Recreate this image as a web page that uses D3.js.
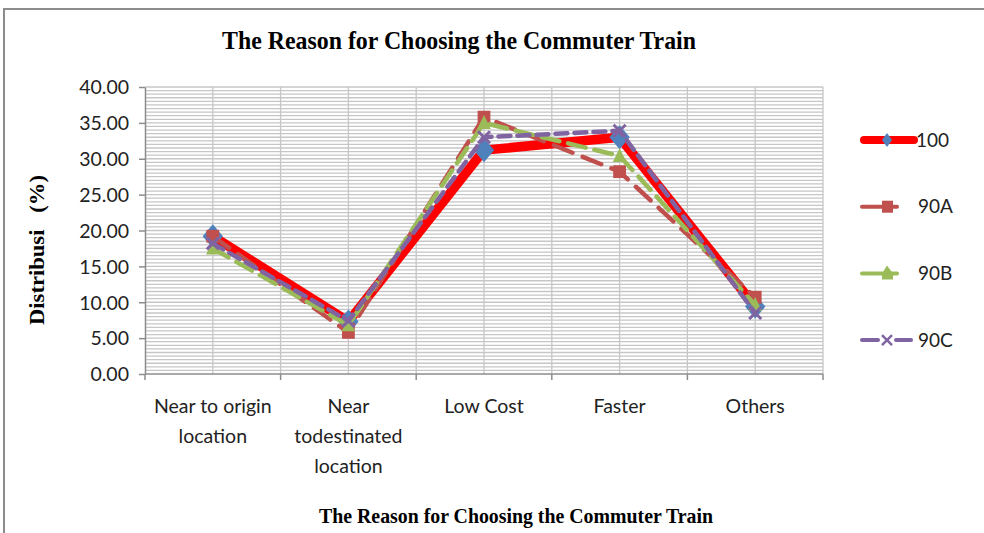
<!DOCTYPE html>
<html>
<head>
<meta charset="utf-8">
<script src="https://cdn.jsdelivr.net/npm/d3@7"></script>
<style>
  body { margin: 0; background: #fff; }
  svg { display: block; }
</style>
</head>
<body>
<div id="chart"></div>
<script>
const W = 984, H = 533;

// data
const categories = [["Near to origin", "location"], ["Near", "todestinated", "location"], ["Low Cost"], ["Faster"], ["Others"]];
const seriesNames = ["100", "90A", "90B", "90C"];
const s100 = [19.2, 7.3, 31.2, 33.0, 9.4];
const s90A = [19.2, 5.8, 35.8, 28.2, 10.7];
const s90B = [17.5, 6.8, 35.0, 30.4, 9.6];
const s90C = [18.2, 7.4, 33.0, 33.9, 8.5];
const yTicks = [0, 5, 10, 15, 20, 25, 30, 35, 40];

const series = [
  {name: seriesNames[0], values: s100, color: "#FF0000", width: 9.5, dash: null, marker: "diamond", mcolor: "#4F81BD"},
  {name: seriesNames[1], values: s90A, color: "#C0504D", width: 4.5, dash: "20,11", marker: "square", mcolor: "#C0504D"},
  {name: seriesNames[2], values: s90B, color: "#9BBB59", width: 4.5, dash: "18,9", marker: "triangle", mcolor: "#9BBB59"},
  {name: seriesNames[3], values: s90C, color: "#8064A2", width: 4.5, dash: "12,7", marker: "cross", mcolor: "#8064A2"}
];

const labelFont = "Lato, Carlito, 'Open Sans', sans-serif";
const titleFont = "'Liberation Serif', 'DejaVu Serif', serif";

const svg = d3.select("#chart").append("svg").attr("width", W).attr("height", H);

// outer frame
svg.append("rect").attr("x", 4).attr("y", 9).attr("width", W + 10).attr("height", H + 10)
  .attr("fill", "none").attr("stroke", "#8c8c8c").attr("stroke-width", 2);

const pLeft = 145, pRight = 823, pTop = 87, pBottom = 374;

const x = d3.scaleBand().domain(d3.range(categories.length)).range([pLeft, pRight]);
const y = d3.scaleLinear().domain([0, 40]).range([pBottom, pTop]);

// horizontal gridlines every 0.5
const g = svg.append("g");
g.selectAll("line.h").data(d3.range(0.5, 40.01, 0.5)).enter().append("line")
  .attr("x1", pLeft).attr("x2", pRight)
  .attr("y1", d => y(d)).attr("y2", d => y(d))
  .attr("stroke", "#c6c6c6").attr("stroke-width", 1.3);

// vertical gridlines at centers and boundaries
const vx = [];
categories.forEach((c, i) => { vx.push(x(i) + x.bandwidth() / 2); vx.push(x(i) + x.bandwidth()); });
g.selectAll("line.v").data(vx).enter().append("line")
  .attr("x1", d => d).attr("x2", d => d).attr("y1", pTop).attr("y2", pBottom)
  .attr("stroke", "#c6c6c6").attr("stroke-width", 1.3);

// y axis
const yAxis = d3.axisLeft(y).tickValues(yTicks).tickFormat(d3.format(".2f")).tickSize(6).tickSizeOuter(0);
const ya = svg.append("g").attr("transform", "translate(" + pLeft + ",0)").call(yAxis);
ya.select(".domain").attr("stroke", "#8c8c8c").attr("stroke-width", 1.5);
ya.selectAll(".tick line").attr("stroke", "#8c8c8c").attr("stroke-width", 1.5);
ya.selectAll(".tick text").attr("x", -16).attr("dy", "0.35em")
  .style("font-family", labelFont).style("font-size", "19.5px").attr("fill", "#222");

// x axis
const xa = svg.append("g").attr("transform", "translate(0," + pBottom + ")");
xa.append("line").attr("x1", pLeft).attr("x2", pRight).attr("stroke", "#8c8c8c").attr("stroke-width", 1.5);
const bounds = [pLeft].concat(categories.map((c, i) => x(i) + x.bandwidth()));
xa.selectAll("line.t").data(bounds).enter().append("line")
  .attr("x1", d => d).attr("x2", d => d).attr("y1", 0).attr("y2", 6)
  .attr("stroke", "#8c8c8c").attr("stroke-width", 1.5);
const xl = xa.selectAll("text.cat").data(categories).enter().append("text")
  .attr("text-anchor", "middle")
  .attr("x", (d, i) => x(i) + x.bandwidth() / 2)
  .style("font-family", labelFont).style("font-size", "19.5px").attr("fill", "#222");
xl.selectAll("tspan").data(d => d).enter().append("tspan")
  .attr("x", function () { return d3.select(this.parentNode).attr("x"); })
  .attr("y", (d, i) => 39 + i * 30)
  .text(d => d);

// series
const line = d3.line().x((d, i) => x(i) + x.bandwidth() / 2).y(d => y(d));

function drawMarker(sel, type, color, s) {
  if (type === "diamond") {
    sel.append("path").attr("d", "M0," + (-s) + "L" + (s * 0.85) + ",0L0," + s + "L" + (-s * 0.85) + ",0Z").attr("fill", color);
  } else if (type === "square") {
    sel.append("rect").attr("x", -s * 0.8).attr("y", -s * 0.8).attr("width", s * 1.6).attr("height", s * 1.6).attr("fill", color);
  } else if (type === "triangle") {
    sel.append("path").attr("d", "M0," + (-s) + "L" + (s * 0.85) + "," + (s * 0.75) + "L" + (-s * 0.85) + "," + (s * 0.75) + "Z").attr("fill", color);
  } else {
    sel.append("path").attr("d", "M" + (-s * 0.75) + "," + (-s * 0.75) + "L" + (s * 0.75) + "," + (s * 0.75) + "M" + (s * 0.75) + "," + (-s * 0.75) + "L" + (-s * 0.75) + "," + (s * 0.75))
      .attr("stroke", color).attr("stroke-width", 3).attr("fill", "none");
  }
}

series.forEach(s => {
  const sg = svg.append("g");
  sg.append("path").datum(s.values).attr("d", line)
    .attr("fill", "none").attr("stroke", s.color).attr("stroke-width", s.width)
    .attr("stroke-dasharray", s.dash).attr("stroke-linecap", "round").attr("stroke-linejoin", "round");
  s.values.forEach((v, i) => {
    const m = sg.append("g").attr("transform", "translate(" + (x(i) + x.bandwidth() / 2) + "," + y(v) + ")");
    drawMarker(m, s.marker, s.mcolor, s.marker === "diamond" ? 12 : 8);
  });
});

// legend
const legend = svg.append("g");
series.forEach((s, i) => {
  const ly = 140 + i * 66.7;
  const lg = legend.append("g").attr("transform", "translate(0," + ly + ")");
  if (i === 0) {
    lg.append("line").attr("x1", 864).attr("x2", 914).attr("stroke", s.color).attr("stroke-width", 8).attr("stroke-linecap", "round");
    lg.append("path").attr("d", "M887,-7L892,0L887,7L882,0Z").attr("fill", s.mcolor);
  } else if (i === 3) {
    lg.append("line").attr("x1", 862).attr("x2", 878).attr("stroke", s.color).attr("stroke-width", 4).attr("stroke-linecap", "round");
    lg.append("line").attr("x1", 896).attr("x2", 911).attr("stroke", s.color).attr("stroke-width", 4).attr("stroke-linecap", "round");
    lg.append("path").attr("d", "M882,-5L892,5M892,-5L882,5").attr("stroke", s.color).attr("stroke-width", 2.5);
  } else {
    lg.append("line").attr("x1", 862).attr("x2", 897).attr("stroke", s.color).attr("stroke-width", 4).attr("stroke-linecap", "round");
    if (s.marker === "square") {
      lg.append("rect").attr("x", 882).attr("y", -6).attr("width", 11).attr("height", 12).attr("fill", s.color);
    } else {
      lg.append("path").attr("d", "M887,-8L893,0L893,6L882,6L882,0Z").attr("fill", s.color);
    }
  }
  lg.append("text").attr("x", i === 0 ? 916 : 918).attr("y", 0).attr("dy", "0.35em")
    .style("font-family", labelFont).style("font-size", "19px").attr("fill", "#222").text(s.name);
});

// titles
svg.append("text").attr("x", 459).attr("y", 49).attr("text-anchor", "middle")
  .attr("textLength", 474).attr("lengthAdjust", "spacingAndGlyphs")
  .style("font-family", titleFont).style("font-weight", "bold")
  .style("font-size", "26px").attr("fill", "#000").text("The Reason for Choosing the Commuter Train");

svg.append("text").attr("x", 516).attr("y", 523).attr("text-anchor", "middle")
  .attr("textLength", 394).attr("lengthAdjust", "spacingAndGlyphs")
  .style("font-family", titleFont).style("font-weight", "bold")
  .style("font-size", "22px").attr("fill", "#000").text("The Reason for Choosing the Commuter Train");

svg.append("text").attr("transform", "translate(44,250) rotate(-90)").attr("text-anchor", "middle")
  .attr("textLength", 150).attr("lengthAdjust", "spacingAndGlyphs")
  .style("font-family", titleFont).style("font-weight", "bold")
  .style("font-size", "21px").attr("fill", "#000").style("white-space", "pre").text("Distribusi   (%)");
</script>
</body>
</html>
